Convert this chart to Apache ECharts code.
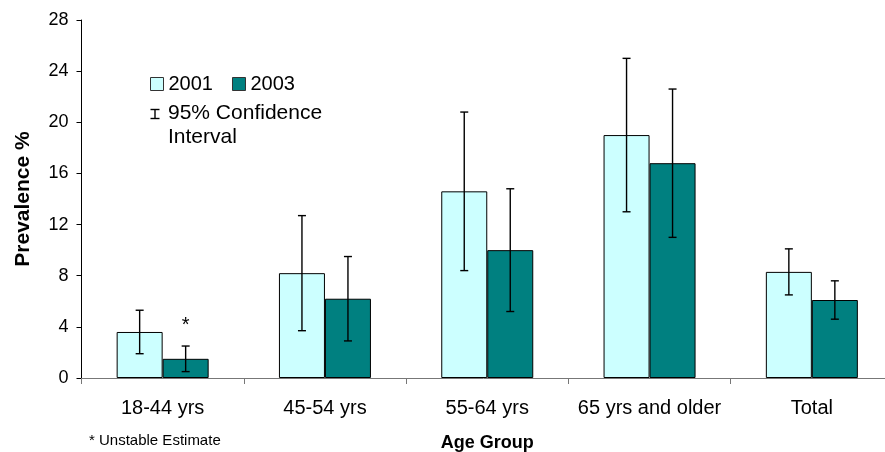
<!DOCTYPE html>
<html>
<head>
<meta charset="utf-8">
<script src="https://cdn.jsdelivr.net/npm/echarts@6/dist/echarts.min.js"></script>
<style>
  html, body { margin: 0; padding: 0; background: #fff; }
  #main { width: 885px; height: 452px; }
</style>
</head>
<body>
<div id="main"></div>
<script>
var categories = ['18-44 yrs', '45-54 yrs', '55-64 yrs', '65 yrs and older', 'Total'];
var prev2001 = [3.6, 8.2, 14.6, 19.0, 8.3];
var prev2003 = [1.5, 6.2, 10.0, 16.8, 6.1];
var low2001 = [1.9, 3.7, 8.4, 13.0, 6.5];
var high2001 = [5.3, 12.7, 20.8, 25.0, 10.1];
var low2003 = [0.5, 2.9, 5.2, 11.0, 4.6];
var high2003 = [2.5, 9.5, 14.8, 22.6, 7.6];
var yTicks = [0, 4, 8, 12, 16, 20, 24, 28];

var font = 'Liberation Sans, Arial, sans-serif';
var barW = 46;

// error bars drawn next to each bar
function errSeries(name, lows, highs, offset) {
  return {
    name: name,
    type: 'custom',
    z: 5,
    data: lows.map(function (l, i) { return [i, l, highs[i]]; }),
    renderItem: function (params, api) {
      var lo = api.coord([api.value(0), api.value(1)]);
      var hi = api.coord([api.value(0), api.value(2)]);
      var x = lo[0] + offset, cap = 4;
      var st = { stroke: '#000', lineWidth: 1.4 };
      return {
        type: 'group',
        children: [
          { type: 'line', shape: { x1: x, y1: hi[1], x2: x, y2: lo[1] }, style: st },
          { type: 'line', shape: { x1: x - cap, y1: hi[1], x2: x + cap, y2: hi[1] }, style: st },
          { type: 'line', shape: { x1: x - cap, y1: lo[1], x2: x + cap, y2: lo[1] }, style: st }
        ]
      };
    }
  };
}

var chart = echarts.init(document.getElementById('main'));
var option = {
  animation: false,
  textStyle: { fontFamily: font },
  grid: { left: 81.5, top: 20, bottom: 74, right: -8, outerBoundsMode: 'none', containLabel: false },
  legend: {
    data: ['2001', '2003'],
    left: 145, top: 69,
    icon: 'rect',
    itemWidth: 13, itemHeight: 13,
    itemGap: 19,
    textStyle: { fontSize: 20, color: '#000', fontFamily: font },
    itemStyle: { borderColor: '#333', borderWidth: 1 },
    selectedMode: false
  },
  xAxis: {
    type: 'category',
    data: categories,
    axisLine: { lineStyle: { color: '#777', width: 1 } },
    axisTick: { show: true, length: 6, lineStyle: { color: '#777' } },
    axisLabel: { interval: 0, fontSize: 20, color: '#000', margin: 20, fontFamily: font },
    name: 'Age Group',
    nameLocation: 'middle',
    nameGap: 56,
    nameTextStyle: { fontSize: 18, fontWeight: 'bold', color: '#000', fontFamily: font }
  },
  yAxis: {
    type: 'value',
    min: yTicks[0], max: yTicks[yTicks.length - 1], interval: 4,
    splitLine: { show: false },
    axisLine: { show: true, lineStyle: { color: '#000', width: 1 } },
    axisTick: { show: true, length: 5, lineStyle: { color: '#000' } },
    axisLabel: { fontSize: 18, color: '#000', margin: 13, fontFamily: font },
    name: 'Prevalence %',
    nameLocation: 'middle',
    nameGap: 48,
    nameTextStyle: { fontSize: 21, fontWeight: 'bold', color: '#000', fontFamily: font }
  },
  series: [
    {
      name: '2001', type: 'bar', barWidth: barW, barGap: '0%',
      itemStyle: { color: '#CCFFFF', borderColor: '#000', borderWidth: 1 },
      data: prev2001
    },
    {
      name: '2003', type: 'bar', barWidth: barW, barGap: '0%',
      itemStyle: { color: '#008080', borderColor: '#000', borderWidth: 1 },
      data: prev2003.map(function (v, i) {
        if (i === 0) {
          return { value: v, label: { show: true, position: 'top', distance: 23, formatter: '*', fontSize: 20, color: '#000', fontFamily: font } };
        }
        return v;
      })
    },
    errSeries('ci2001', low2001, high2001, -barW / 2),
    errSeries('ci2003', low2003, high2003, barW / 2)
  ],
  graphic: [
    {
      type: 'group', left: 148, top: 107,
      children: [
        { type: 'line', shape: { x1: 5, y1: 0, x2: 5, y2: 9 }, style: { stroke: '#000', lineWidth: 1.4 } },
        { type: 'line', shape: { x1: 0.5, y1: 0, x2: 9.5, y2: 0 }, style: { stroke: '#000', lineWidth: 1.4 } },
        { type: 'line', shape: { x1: 0.5, y1: 9, x2: 9.5, y2: 9 }, style: { stroke: '#000', lineWidth: 1.4 } }
      ]
    },
    {
      type: 'text', left: 168, top: 101,
      style: { text: '95% Confidence\nInterval', fontSize: 21, lineHeight: 24, fill: '#000', fontFamily: font }
    },
    {
      type: 'text', left: 89, top: 433,
      style: { text: '* Unstable Estimate', fontSize: 15, fill: '#000', fontFamily: font }
    }
  ]
};
chart.setOption(option);
</script>
</body>
</html>
